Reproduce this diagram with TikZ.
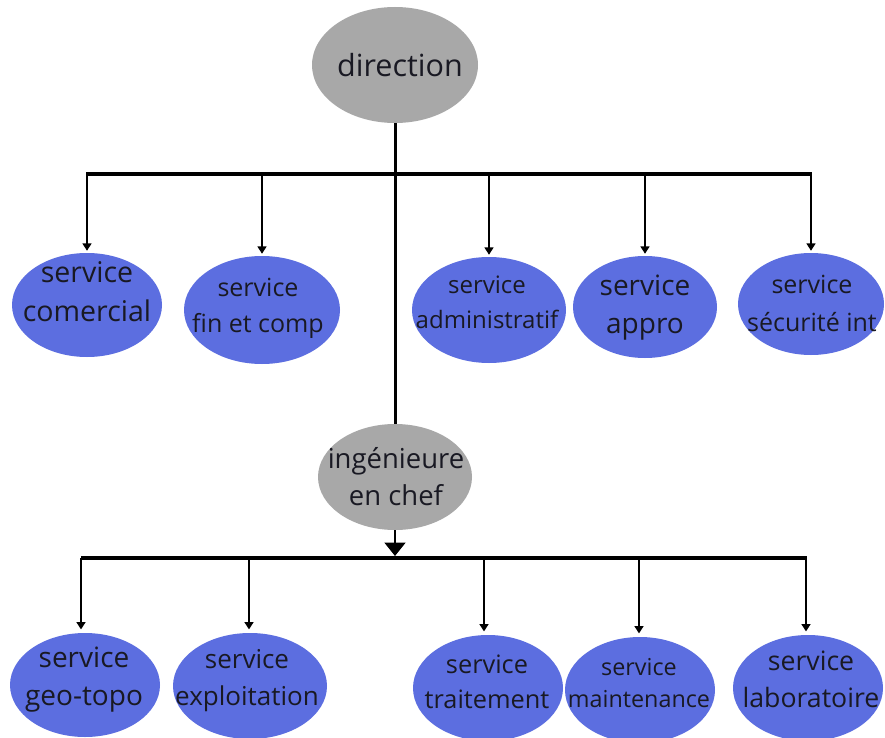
\documentclass[tikz,border=0pt]{standalone}
\usepackage{fontspec}
\setmainfont{Open Sans}
\usetikzlibrary{shapes.geometric,arrows.meta}
\definecolor{svcblue}{RGB}{92,110,224}
\definecolor{dirgrey}{RGB}{168,168,168}
\definecolor{txt}{RGB}{25,25,35}
\begin{document}
\begin{tikzpicture}[x=0.75pt,y=-0.75pt,
  ell/.style={ellipse, inner sep=0pt, draw=none},
  svc/.style={ell, fill=svcblue},
  boss/.style={ell, fill=dirgrey},
  lbl/.style={anchor=base, align=center, inner sep=0pt, text=txt},
  trunk/.style={line width=2.25pt},
  bar/.style={line width=2.6pt},
  arr/.style={line width=1.1pt, -{Triangle[width=6.75pt,length=5.5pt]}},
  bigarr/.style={line width=1.8pt, -{Triangle[width=15.5pt,length=10pt]}}]
\useasboundingbox (0,0) rectangle (885,738);
\fill[white] (0,0) rectangle (885,738);

% top level
\node[boss, minimum width=124.5pt, minimum height=87pt] (dir) at (395,65) {};
\node[lbl, font=\fontsize{22.9}{27}\selectfont] (tdir) at (400,77) {direction};

% first row of services
\node[svc, minimum width=112.5pt, minimum height=78pt] (com) at (87,305) {};
\node[svc, minimum width=117pt, minimum height=81pt] (fin) at (262,310) {};
\node[svc, minimum width=115.5pt, minimum height=79.5pt] (adm) at (489,310) {};
\node[svc, minimum width=108pt, minimum height=76.5pt] (app) at (645,307) {};
\node[svc, minimum width=109.5pt, minimum height=76.5pt] (sec) at (811,304) {};

% (anchor = baseline of the last line)
\node[lbl, font=\fontsize{21.4}{29.25}\selectfont] (tcom) at (87,321) {service\\comercial};
\node[lbl, font=\fontsize{18.75}{27}\selectfont] (tfin) at (258,332.5) {service\\fin et comp};
\node[lbl, font=\fontsize{18}{26.25}\selectfont] (tadm) at (487,328) {service\\administratif};
\node[lbl, font=\fontsize{21}{28.5}\selectfont] (tapp) at (645,333) {service\\appro};
\node[lbl, font=\fontsize{18.75}{28.5}\selectfont] (tsec) at (812,331) {service\\sécurité int};

% chief engineer
\node[boss, minimum width=115.5pt, minimum height=79.5pt] (ing) at (395,477) {};
\node[lbl, font=\fontsize{20.6}{27.75}\selectfont] (ting) at (396,505) {ingénieure\\en chef};

% second row of services
\node[svc, minimum width=112.5pt, minimum height=78pt] (geo) at (85,685) {};
\node[svc, minimum width=115.5pt, minimum height=79.5pt] (exp) at (250,686) {};
\node[svc, minimum width=112.5pt, minimum height=79.5pt] (tra) at (488,688) {};
\node[svc, minimum width=112.5pt, minimum height=79.5pt] (mai) at (640,690) {};
\node[svc, minimum width=112.5pt, minimum height=79.5pt] (lab) at (808,688) {};

\node[lbl, font=\fontsize{21}{28.5}\selectfont] (tgeo) at (84,705) {service\\geo-topo};
\node[lbl, font=\fontsize{19.5}{27.75}\selectfont] (texp) at (247,705) {service\\exploitation};
\node[lbl, font=\fontsize{19}{26.25}\selectfont] (ttra) at (487,708) {service\\traitement};
\node[lbl, font=\fontsize{17.5}{24}\selectfont] (tmai) at (639,707) {service\\maintenance};
\node[lbl, font=\fontsize{20}{27.75}\selectfont] (tlab) at (811,707) {service\\laboratoire};

% connectors, upper tree
\coordinate (j1L) at (86,174);
\coordinate (j1R) at (812,174);
\coordinate (u1) at (87,174);
\coordinate (u2) at (262,174);
\coordinate (u3) at (489,174);
\coordinate (u4) at (645,174);
\coordinate (u5) at (811,174);
\draw[trunk] (dir.south) -- (ing.north);
\draw[bar] (j1L) -- (j1R);
\foreach \c/\n in {u1/com,u2/fin,u3/adm,u4/app,u5/sec}
  \draw[arr, shorten >=1.5pt] (\c) -- (\c |- \n.north);

% connectors, lower tree
\coordinate (j2) at (395,556);
\coordinate (j2L) at (81,558);
\coordinate (j2R) at (807,558);
\coordinate (d1) at (81,558);
\coordinate (d2) at (249,558);
\coordinate (d3) at (484,558);
\coordinate (d4) at (639,558);
\coordinate (d5) at (806,558);
\draw[bar] (j2L) -- (j2R);
\draw[bigarr] (ing.south) -- (j2);
\foreach \c/\n in {d1/geo,d2/exp,d3/tra,d4/mai,d5/lab}
  \draw[arr, shorten >=2.5pt] (\c) -- (\c |- \n.north);
\end{tikzpicture}
\end{document}
